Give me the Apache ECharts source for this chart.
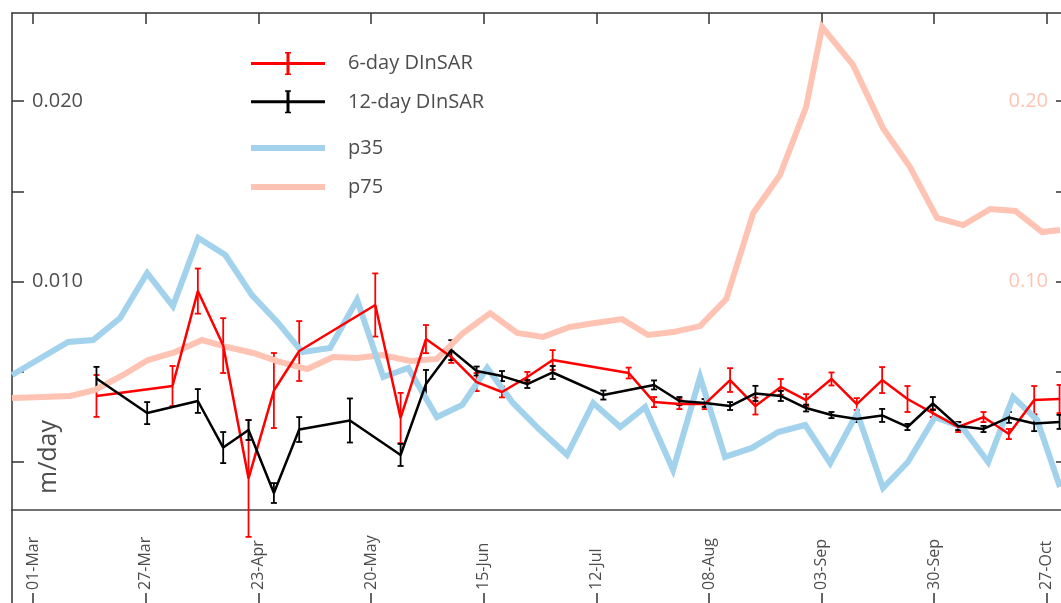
<!DOCTYPE html>
<html><head><meta charset="utf-8">
<script src="https://cdn.jsdelivr.net/npm/echarts@6/dist/echarts.min.js"></script>
<style>html,body{margin:0;padding:0;background:#fff;overflow:hidden;width:1061px;height:603px}#c{width:1068px;height:606px}</style>
</head><body><div id="c"></div>
<script>
// x values are days since 01-Mar
const tickDays = [0, 26.67, 53.33, 80, 106.67, 133.33, 160, 186.67, 213.33, 240];
const tickLabels = ['01-Mar','27-Mar','23-Apr','20-May','15-Jun','12-Jul','08-Aug','03-Sep','30-Sep','27-Oct'];
const leftTicks = [0, 0.005, 0.010, 0.015, 0.020];
const leftLabels = [0.010, 0.020];
const rightTicks = [0, 0.05, 0.10, 0.15, 0.20];
const rightLabels = [0.10, 0.20];

const days6 = [15,33,39,45,51,57,63,81,87,93,99,105,111,117,123,141,147,153,159,165,171,177,183,189,195,201,207,213,219,225,231,237,243];
const vel6 = [0.00366,0.00421,0.00947,0.00645,-0.00091,0.00396,0.00615,0.0087,0.00244,0.00681,0.00582,0.00443,0.00388,0.00471,0.00565,0.00493,0.00332,0.00321,0.00321,0.00454,0.0031,0.00416,0.00343,0.0046,0.00321,0.00454,0.00349,0.00271,0.00194,0.00249,0.00155,0.00343,0.00349];
const err6 = [0.00116,0.00111,0.00125,0.00152,0.00324,0.00208,0.00166,0.00175,0.00139,0.00078,0.00033,0.0005,0.0003,0.00028,0.00055,0.0003,0.00028,0.00028,0.00028,0.00066,0.00047,0.00044,0.00033,0.00036,0.00033,0.00072,0.00072,0.00022,0.00028,0.00028,0.00028,0.00078,0.00078];

const days12 = [15,27,39,45,51,57,63,75,87,93,99,105,111,117,123,135,147,153,159,165,171,177,183,189,195,201,207,213,219,225,231,237,243];
const vel12 = [0.00463,0.00271,0.00338,0.0008,0.00177,-0.00172,0.0018,0.0023,0.00039,0.00432,0.0062,0.00504,0.00476,0.00432,0.00496,0.00371,0.00427,0.00338,0.00327,0.0031,0.0038,0.00366,0.00299,0.0026,0.00238,0.00258,0.00194,0.00324,0.00199,0.00183,0.00247,0.00213,0.00222];
const err12 = [0.00064,0.00061,0.00066,0.00086,0.00055,0.00055,0.00069,0.00122,0.00061,0.00078,0.00055,0.00025,0.00028,0.00022,0.00036,0.00025,0.00025,0.00022,0.00022,0.00022,0.00042,0.00028,0.00019,0.00017,0.00017,0.00036,0.00017,0.00036,0.00022,0.00017,0.0003,0.00042,0.00039];

const daysP35 = [-5,8.3,14.2,20.6,27,33.1,39.1,45.5,51.8,57.8,63.7,70.3,76.7,82.9,88.8,95.6,101.6,107.5,113.6,120,126.4,132.6,139,144.9,151.5,157.9,163.8,170.2,176.4,182.8,188.7,195.1,201.2,207.1,213.5,219.9,226.1,232,237.7,243.1];
const p35 = [0.00482,0.00665,0.00676,0.00798,0.01047,0.00864,0.01241,0.01147,0.00925,0.00776,0.00609,0.00632,0.00898,0.00471,0.00521,0.00249,0.00316,0.00521,0.00327,0.00177,0.00039,0.00327,0.00194,0.00305,-0.00044,0.00471,0.00028,0.00078,0.00166,0.00205,-0.00006,0.00271,-0.00144,0,0.00249,0.00194,0,0.0036,0.00233,-0.00139];

const daysP75 = [-5,2.4,8.8,14.7,21.3,27.2,33.6,40,45.9,52.1,58.5,64.9,71,76.7,82.6,89.3,95.6,101.8,108.2,114.6,120.7,127.1,133,139.4,145.6,151.5,157.9,164.1,170.5,176.8,183,186.8,194.1,201.2,207.6,214,220.2,226.6,232.5,238.9,243.1];
const p75 = [0.0355,0.036,0.0366,0.0399,0.0482,0.0565,0.0609,0.0676,0.0637,0.0604,0.0554,0.0515,0.0582,0.0576,0.0593,0.056,0.0571,0.0715,0.0825,0.0715,0.0693,0.0748,0.077,0.0792,0.0704,0.072,0.0753,0.0903,0.138,0.159,0.1967,0.241,0.22,0.185,0.1634,0.1352,0.1313,0.1402,0.1391,0.1274,0.1285];

const FONT = 'Open Sans';
const TXT = '#4d4d4d';
const RED = '#ff0000', BLK = '#000000', BLUE = '#a3d3ec', SALMON = '#ffc3b3';
const AXC = '#333333';

const pairs = (xs, ys) => xs.map((x, i) => [x, ys[i]]);
const bars = (xs, ys, es) => xs.map((x, i) => [x, ys[i] - es[i], ys[i] + es[i]]);

function errRender(color) {
  return function (params, api) {
    const x = api.value(0);
    const lo = api.coord([x, api.value(1)]);
    const hi = api.coord([x, api.value(2)]);
    const w = 3;
    const st = { stroke: color, lineWidth: 1.8 };
    return { type: 'group', children: [
      { type: 'line', shape: { x1: hi[0], y1: hi[1], x2: lo[0], y2: lo[1] }, style: st },
      { type: 'line', shape: { x1: hi[0] - w, y1: hi[1], x2: hi[0] + w, y2: hi[1] }, style: st },
      { type: 'line', shape: { x1: lo[0] - w, y1: lo[1], x2: lo[0] + w, y2: lo[1] }, style: st }
    ]};
  };
}

const corners = 'M0,0 L0.01,0 L0,0.01 Z M92,23 L91.99,23 L92,22.99 Z ';
const iconErr = 'path://' + corners + 'M0,10 L74,10 L74,13 L0,13 Z M35.5,0 L38.5,0 L38.5,23 L35.5,23 Z M34,0 L40,0 L40,1.5 L34,1.5 Z M34,21.5 L40,21.5 L40,23 L34,23 Z';
const iconBand = 'path://' + corners + 'M0,8.5 L74,8.5 L74,14.5 L0,14.5 Z';

const xRange = { min: -5, max: 245 };
const fmtDate = (v) => {
  let b = 0;
  tickDays.forEach((d, i) => { if (Math.abs(d - v) < Math.abs(tickDays[b] - v)) b = i; });
  return tickLabels[b];
};

const legendCommon = {
  orient: 'vertical', left: 251, padding: 0, itemWidth: 92, itemHeight: 23,
  textStyle: { fontFamily: FONT, fontSize: 20, color: TXT },
  itemStyle: { borderWidth: 0 }, selectedMode: false
};

const chart = echarts.init(document.getElementById('c'), null, { renderer: 'canvas' });
chart.setOption({
  animation: false,
  backgroundColor: '#ffffff',
  grid: [
    { left: 12, right: 0, top: 13, bottom: 96 },
    { left: 12, right: 0, top: 510, bottom: 2 }
  ],
  legend: [
    Object.assign({}, legendCommon, { top: 52, itemGap: 15.3, data: [
      { name: '6-day DInSAR', icon: iconErr, itemStyle: { color: RED, borderWidth: 0 } },
      { name: '12-day DInSAR', icon: iconErr, itemStyle: { color: BLK, borderWidth: 0 } }
    ]}),
    Object.assign({}, legendCommon, { top: 136.5, itemGap: 16, data: [
      { name: 'p35', icon: iconBand, itemStyle: { color: BLUE, borderWidth: 0 } },
      { name: 'p75', icon: iconBand, itemStyle: { color: SALMON, borderWidth: 0 } }
    ]})
  ],
  xAxis: [
    Object.assign({ type: 'value', gridIndex: 0, position: 'bottom',
      axisLine: { show: true, onZero: false, lineStyle: { color: '#444', width: 1.5 } },
      axisTick: { show: false }, axisLabel: { show: false }, splitLine: { show: false } }, xRange),
    Object.assign({ type: 'value', gridIndex: 0, position: 'top',
      axisLine: { show: true, onZero: false, lineStyle: { color: AXC, width: 1.5 } },
      axisTick: { show: true, inside: true, length: 11, customValues: tickDays, lineStyle: { color: AXC, width: 1.5 } },
      axisLabel: { show: false }, splitLine: { show: false } }, xRange),
    Object.assign({ type: 'value', gridIndex: 1, position: 'bottom',
      axisLine: { show: true, onZero: false, lineStyle: { color: AXC, width: 1.5 } },
      axisTick: { show: true, inside: true, length: 11, customValues: tickDays, lineStyle: { color: AXC, width: 1.5 } },
      axisLabel: { show: true, inside: true, rotate: 90, margin: 14, customValues: tickDays, formatter: fmtDate,
        fontFamily: FONT, fontSize: 16, color: TXT, padding: [8, 0, 0, 0] },
      splitLine: { show: false } }, xRange)
  ],
  yAxis: [
    { type: 'value', gridIndex: 0, position: 'left', min: -0.00266, max: 0.02488,
      axisLine: { show: true, onZero: false, lineStyle: { color: AXC, width: 1.5 } },
      axisTick: { show: true, inside: true, length: 12, customValues: leftTicks, lineStyle: { color: AXC, width: 1.5 } },
      axisLabel: { show: true, inside: true, margin: 20, customValues: leftLabels, formatter: (v) => v.toFixed(3),
        fontFamily: FONT, fontSize: 20, color: TXT },
      splitLine: { show: false } },
    { type: 'value', gridIndex: 0, position: 'right', min: -0.0266, max: 0.2488,
      axisLine: { show: true, onZero: false, lineStyle: { color: AXC, width: 1.5 } },
      axisTick: { show: true, inside: true, length: 12, customValues: rightTicks, lineStyle: { color: AXC, width: 1.5 } },
      axisLabel: { show: true, inside: true, margin: 20, customValues: rightLabels, formatter: (v) => v.toFixed(2),
        fontFamily: FONT, fontSize: 20, color: SALMON },
      splitLine: { show: false } },
    { type: 'value', gridIndex: 1, position: 'left', min: 0, max: 1,
      axisLine: { show: true, onZero: false, lineStyle: { color: AXC, width: 1.5 } },
      axisTick: { show: false }, axisLabel: { show: false }, splitLine: { show: false } }
  ],
  graphic: [
    { type: 'text', x: 49, y: 457, rotation: Math.PI / 2, z: 100,
      style: { text: 'm/day', fill: TXT, fontFamily: FONT, fontSize: 25, align: 'center', verticalAlign: 'middle' } }
  ],
  series: [
    { name: 'p75', type: 'line', xAxisIndex: 0, yAxisIndex: 1, data: pairs(daysP75, p75), symbol: 'none',
      lineStyle: { color: SALMON, width: 6, join: 'miter' }, itemStyle: { color: SALMON } },
    { name: 'p35', type: 'line', xAxisIndex: 0, yAxisIndex: 0, data: pairs(daysP35, p35), symbol: 'none',
      lineStyle: { color: BLUE, width: 6, join: 'miter' }, itemStyle: { color: BLUE } },
    { name: '6-day DInSAR', type: 'line', xAxisIndex: 0, yAxisIndex: 0, data: pairs(days6, vel6), symbol: 'none',
      lineStyle: { color: RED, width: 2.5 }, itemStyle: { color: RED } },
    { name: '6-day err', type: 'custom', xAxisIndex: 0, yAxisIndex: 0, data: bars(days6, vel6, err6),
      renderItem: errRender(RED), encode: { x: 0, y: [1, 2] }, clip: false },
    { name: '12-day DInSAR', type: 'line', xAxisIndex: 0, yAxisIndex: 0, data: pairs(days12, vel12), symbol: 'none',
      lineStyle: { color: BLK, width: 2.5 }, itemStyle: { color: BLK } },
    { name: '12-day err', type: 'custom', xAxisIndex: 0, yAxisIndex: 0, data: bars(days12, vel12, err12),
      renderItem: errRender(BLK), encode: { x: 0, y: [1, 2] }, clip: false }
  ]
});
</script></body></html>
